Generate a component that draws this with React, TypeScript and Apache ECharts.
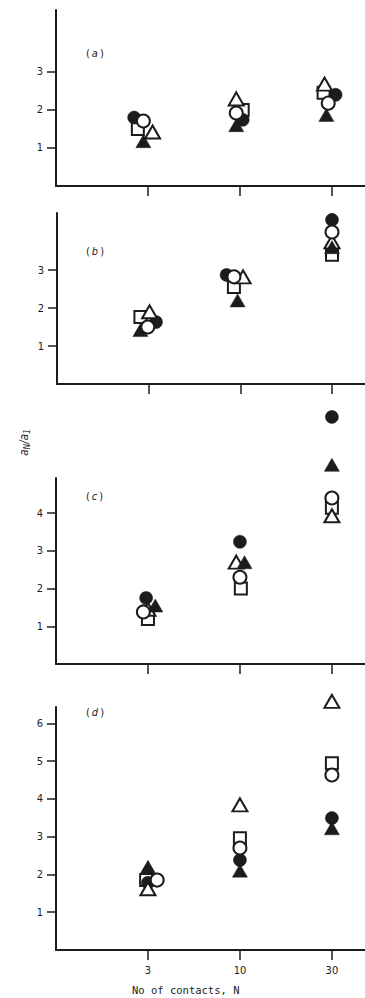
import React, { useEffect, useRef } from "react";
import * as echarts from "echarts";

// Category tick labels (number of contacts N) and their axis positions
const N_LABELS = ["3", "10", "30"];
const N_POS = [1, 2, 3];
const PANEL_LETTERS = ["a", "b", "c", "d"];
const Y_TICKS = [
  [1, 2, 3],
  [1, 2, 3],
  [1, 2, 3, 4],
  [1, 2, 3, 4, 5, 6],
];

// a_N / a_1 values, one row per panel (a..d), columns N = 3, 10, 30
const filledCircle = [
  [1.8, 1.74, 2.4],
  [1.63, 2.87, 4.32],
  [1.75, 3.24, 6.55],
  [1.78, 2.38, 3.49],
];
const openCircle = [
  [1.71, 1.92, 2.18],
  [1.5, 2.82, 4.0],
  [1.38, 2.3, 4.4],
  [1.85, 2.7, 4.63],
];
const openSquare = [
  [1.5, 2.0, 2.45],
  [1.76, 2.55, 3.4],
  [1.19, 2.0, 4.14],
  [1.85, 2.96, 4.94],
];
const filledTriangle = [
  [1.18, 1.6, 1.87],
  [1.42, 2.2, 3.6],
  [1.55, 2.7, 5.28],
  [2.2, 2.1, 3.22],
];
const openTriangle = [
  [1.42, 2.29, 2.68],
  [1.9, 2.82, 3.74],
  [1.45, 2.7, 3.93],
  [1.62, 3.84, 6.58],
];

// small horizontal displacement of each point from its N position (axis units)
const filledCircleShift = [[-0.15, 0.03, 0.04], [0.08, -0.15, 0], [-0.02, 0, 0], [0, 0, 0]];
const openCircleShift = [[-0.05, -0.04, -0.04], [-0.01, -0.07, 0], [-0.05, 0, 0], [0.1, 0, 0]];
const openSquareShift = [[-0.11, 0.03, -0.09], [-0.09, -0.07, 0], [0, 0.01, 0], [-0.02, 0, 0]];
const openTriangleShift = [[0.05, -0.04, -0.08], [0.01, 0.03, 0], [0, -0.04, 0], [0, 0, 0]];
const filledTriangleShift = [[-0.05, -0.04, -0.06], [-0.09, -0.03, 0], [0.08, 0.05, 0], [0, 0, 0]];

const INK = "#1c1c1c";
const FONT = "'DejaVu Sans Condensed', 'Liberation Sans Narrow', sans-serif";
const MONO = "'DejaVu Sans Mono', 'Liberation Mono', monospace";

const GRIDS = [
  { left: 56, top: 10, width: 309, height: 176, yMax: 4.63 },
  { left: 57, top: 213, width: 308, height: 171, yMax: 4.5 },
  { left: 56, top: 478, width: 309, height: 186, yMax: 4.93 },
  { left: 56, top: 707, width: 309, height: 243, yMax: 6.43 },
];
const X_MAX = 3.36;

const SERIES_DEFS = [
  { name: "open square", vals: openSquare, shift: openSquareShift, symbol: "rect", size: 12, filled: false },
  { name: "filled circle", vals: filledCircle, shift: filledCircleShift, symbol: "circle", size: 13, filled: true },
  { name: "open triangle", vals: openTriangle, shift: openTriangleShift, symbol: "triangle", size: [15, 13], filled: false },
  { name: "filled triangle", vals: filledTriangle, shift: filledTriangleShift, symbol: "triangle", size: [15, 13], filled: true },
  { name: "open circle", vals: openCircle, shift: openCircleShift, symbol: "circle", size: 13, filled: false },
];

export default function App() {
  const ref = useRef<HTMLDivElement>(null);

  useEffect(() => {
    if (!ref.current) return;
    const chart = echarts.init(ref.current, null, { renderer: "svg" });

    const grid = GRIDS.map((g) => ({
      left: g.left,
      top: g.top,
      width: g.width,
      height: g.height,
      containLabel: false,
    }));

    const xAxis = GRIDS.map((g, i) => ({
      type: "value",
      gridIndex: i,
      min: 0,
      max: X_MAX,
      splitLine: { show: false },
      axisLine: { show: true, lineStyle: { color: INK, width: 2 } },
      axisTick: {
        show: true,
        customValues: N_POS,
        length: 10,
        lineStyle: { color: INK, width: 1.5 },
      },
      axisLabel: {
        show: i === 3,
        customValues: N_POS,
        formatter: (v: number) => N_LABELS[N_POS.indexOf(v)] ?? "",
        color: INK,
        fontFamily: FONT,
        fontSize: 11,
        margin: 15,
      },
    }));

    const yAxis = GRIDS.map((g, i) => ({
      type: "value",
      gridIndex: i,
      min: 0,
      max: g.yMax,
      splitLine: { show: false },
      axisLine: { show: true, lineStyle: { color: INK, width: 2 } },
      axisTick: {
        show: true,
        customValues: Y_TICKS[i],
        length: 9,
        lineStyle: { color: INK, width: 1.5 },
      },
      axisLabel: {
        show: true,
        customValues: Y_TICKS[i],
        color: INK,
        fontFamily: FONT,
        fontSize: 11,
        margin: 13,
      },
    }));

    const series: any[] = [];
    GRIDS.forEach((_, p) => {
      SERIES_DEFS.forEach((d) => {
        series.push({
          type: "scatter",
          name: d.name,
          xAxisIndex: p,
          yAxisIndex: p,
          clip: false,
          symbol: d.symbol,
          symbolSize: d.size,
          itemStyle: d.filled
            ? { color: INK, borderColor: INK, borderWidth: 0.5, opacity: 1 }
            : { color: "#ffffff", borderColor: INK, borderWidth: 2, opacity: 1 },
          emphasis: { disabled: true },
          data: d.vals[p].map((v, k) => [N_POS[k] + d.shift[p][k], v]),
        });
      });
    });

    const panelLabels = PANEL_LETTERS.map((l, i) => ({
      type: "text",
      left: 86,
      top: [48, 246, 491, 707][i],
      style: {
        text: `{p|(}{i|${l}}{p|)}`,
        rich: {
          p: { fontFamily: FONT, fontSize: 11, fill: INK },
          i: { fontFamily: FONT, fontSize: 11, fontStyle: "italic", fill: INK, padding: [0, 2, 0, 2] },
        },
      },
    }));

    chart.setOption({
      animation: false,
      backgroundColor: "#ffffff",
      grid,
      xAxis,
      yAxis,
      series,
      graphic: [
        ...panelLabels,
        {
          type: "text",
          x: 17,
          y: 456,
          rotation: Math.PI / 2,
          style: {
            text: "{a|a}{s|N}{a|/a}{s|1}",
            rich: {
              a: { fontFamily: FONT, fontSize: 12, fontStyle: "italic", fill: INK },
              s: { fontFamily: FONT, fontSize: 8, fontStyle: "italic", fill: INK, padding: [6, 0, 0, 0] },
            },
          },
        },
        {
          type: "text",
          left: 132,
          top: 984,
          style: {
            text: "No of contacts, N",
            fontFamily: MONO,
            fontSize: 10.5,
            fill: INK,
          },
        },
      ],
    });

    return () => chart.dispose();
  }, []);

  return (
    <div
      ref={ref}
      style={{ position: "absolute", left: 0, top: 0, width: 365, height: 998, background: "#fff" }}
    />
  );
}
